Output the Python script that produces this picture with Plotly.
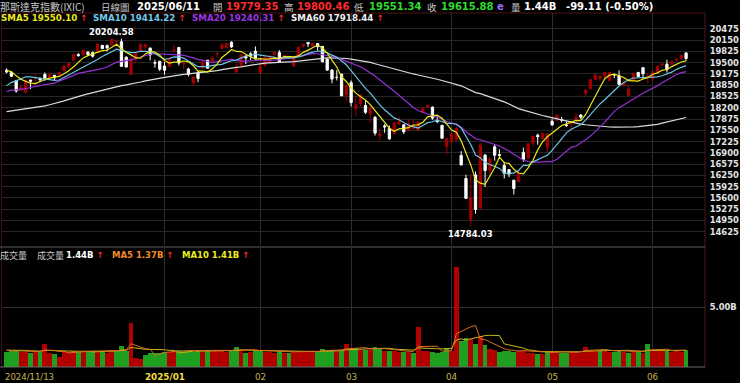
import numpy as np
import pandas as pd
import plotly.graph_objects as go

W, H = 740, 383

# ---------------- data ----------------
holidays = ["2024-11-28", "2024-12-25", "2025-01-01", "2025-01-09", "2025-01-20",
            "2025-02-17", "2025-04-18", "2025-05-26"]
dates = [d for d in pd.bdate_range("2024-11-13", "2025-06-11")
         if d.strftime("%Y-%m-%d") not in holidays]

open_ = [19283, 19219, 18981, 18710, 18640, 18999, 19046, 19039, 19160, 19074, 19136, 19124,
         19264, 19390, 19562, 19732, 19728, 19803, 19788, 19801, 19998, 19989, 20009, 20097,
         20101, 19658, 19160, 19603, 19814, 19955, 19920, 19498, 19540,
         19403, 19395, 19851, 19938, 19469, 19316, 18915, 19214, 19345, 19571, 19555, 19747,
         19911, 19932, 20088, 19234, 19418, 19679, 19753, 19832,
         19215, 19423, 19522, 19738, 19792, 19663, 19629, 19402, 19699, 19974, 20082, 19983,
         20051, 19968, 19603, 19287, 19076, 19169, 18567,
         18923, 18180, 18318, 18266, 18023, 17925, 17389, 17677, 17605, 17464, 17734, 17708,
         17549, 17593, 17564, 18066, 18222, 18218, 17827, 17694, 17086,
         17228, 17276, 16825, 16159, 14988, 16264, 15313, 16836, 16397, 17074, 16847, 16534,
         16415, 16111, 16073, 16913, 16753, 17182, 17409, 17306, 17063,
         17811, 17836, 17857, 17697, 17733, 17871, 17990, 18619, 18745, 19018, 19044, 19127,
         18986, 19159, 19120, 18844, 18547, 18988, 19215, 19356, 19084,
         19045, 19225, 19434, 19455, 19457, 19581, 19614, 19779.35]
high = [19335, 19245, 19005, 18852, 19003, 19002, 19173, 19076, 19219, 19187, 19139, 19238,
        19414, 19486, 19742, 19775, 19863, 19834, 19825, 20055, 20007, 20025, 20204.58, 20159,
        20194, 19681, 19696, 19775, 20031, 20052, 19932, 19586, 19540,
        19518, 19638, 20007, 19950, 19545, 19354, 19098, 19268, 19566, 19571, 19703, 19815,
        20068, 20054, 20118, 19472, 19751, 19721, 19801, 19969,
        19517, 19688, 19700, 19798, 19862, 19735, 19707, 19694, 19963, 20045, 20084, 20073,
        20065, 19972, 19624, 19311, 19289, 19172, 18852,
        18989, 18537, 18595, 18400, 18290, 17958, 17586, 17728, 17682, 17780, 17933, 17708,
        17875, 17865, 17803, 18211, 18281, 18238, 17986, 17698, 17340,
        17471, 17661, 16950, 16269, 16292, 16362, 17203, 16863, 16764, 17155, 17001, 16641,
        16434, 16111, 16371, 17051, 17176, 17383, 17454, 17486, 17466,
        17871, 18016, 17936, 17810, 17828, 18048, 18014, 18721, 19022, 19155, 19128, 19212,
        19241, 19181, 19277, 19055, 18862, 19201, 19238, 19361, 19166,
        19257, 19423, 19482, 19585, 19562, 19643, 19730, 19800.46]
low = [19192, 19085, 18635, 18674, 18632, 18742, 18853, 18936, 18976, 19043, 18978, 19114,
       19262, 19350, 19557, 19680, 19726, 19711, 19642, 19799, 19898, 19823, 19991, 20023,
       19375, 19365, 19133, 19507, 19788, 19909, 19563, 19356, 19256,
       19148, 19379, 19791, 19418, 19313, 19103, 18831, 18937, 19324, 19335, 19535, 19644,
       19903, 19898, 19924, 19204, 19372, 19461, 19574, 19593,
       19141, 19416, 19485, 19659, 19495, 19634, 19592, 19378, 19670, 19935, 19947, 19962,
       19845, 19510, 19262, 18903, 18985, 18536, 18372,
       18236, 17956, 18225, 18021, 17768, 17398, 17238, 17479, 17277, 17460, 17706, 17441,
       17521, 17584, 17518, 18040, 18190, 17853, 17753, 17298, 16855,
       17172, 17255, 16539, 15576, 14784.03, 15146, 15264, 15912, 16268, 16674, 16756, 16159,
       16200, 15697, 16045, 16641, 16736, 17089, 17133, 17283, 16921,
       17673, 17824, 17776, 17648, 17581, 17812, 17862, 18526, 18735, 18993, 18966, 19046,
       18958, 19054, 18859, 18834, 18545, 18958, 19084, 19021, 18899,
       18960, 19214, 19393, 19209, 19422, 19534, 19584, 19551.34]
close = [19230.74, 19107.65, 18680.12, 18791.81, 18987.47, 18966.14, 19060.48, 19003.65,
         19054.84, 19174.30, 19060.48, 19218.17,
         19403.95, 19480.91, 19735.12, 19700.26, 19859.77, 19736.69, 19687.24, 20034.89,
         19902.84, 19926.72, 20173.89, 20109.06, 19392.69, 19372.77, 19572.60, 19764.89,
         20031.13, 20020.36, 19722.03, 19486.78, 19310.79,
         19280.79, 19621.68, 19864.98, 19489.68, 19478.88, 19161.63, 19088.10, 19044.39,
         19511.23, 19338.29, 19630.20, 19756.78, 20009.34, 20053.68, 19954.30, 19341.84,
         19733.59, 19632.32, 19681.75, 19627.44,
         19391.96, 19654.02, 19692.33, 19791.99, 19523.40, 19714.27, 19643.86, 19649.95,
         19945.64, 20026.77, 20041.26, 20056.25, 19962.36, 19524.01, 19286.93, 19026.39,
         19075.26, 18544.42, 18847.28,
         18350.19, 18285.16, 18552.73, 18069.26, 18196.22, 17468.32, 17436.10, 17648.45,
         17303.01, 17754.09, 17808.66, 17504.12, 17750.79, 17691.63, 17784.05, 18188.59,
         18271.86, 17899.02, 17804.03, 17322.99, 17299.29,
         17449.89, 17601.05, 16550.61, 15587.79, 15603.26, 15267.91, 17124.97, 16387.31,
         16724.46, 16831.48, 16823.17, 16307.16, 16286.45, 15870.90, 16300.42, 16708.05,
         17166.04, 17382.94, 17366.13, 17461.32, 17446.34,
         17710.74, 17977.73, 17844.24, 17689.66, 17738.16, 17928.14, 17928.92, 18708.34,
         19010.08, 19146.81, 19112.32, 19211.10, 19215.46, 19142.71, 18872.64, 18925.74,
         18737.21, 19199.16, 19100.94, 19175.87, 19113.77,
         19242.61, 19398.96, 19460.49, 19298.45, 19529.95, 19591.24, 19714.99, 19615.88]
# volume in billions
volume_b = [1.33, 1.35, 1.45, 1.30, 1.28, 1.25, 1.32, 1.28, 1.95, 1.25, 1.15, 0.85,
            1.35, 1.30, 1.40, 1.30, 1.30, 1.35, 1.35, 1.40, 1.30, 1.20, 1.45, 1.40,
            1.83, 1.36, 3.70, 0.80, 0.70, 1.05, 1.20, 1.25, 1.25,
            1.30, 1.30, 1.40, 1.45, 1.35, 1.40, 1.30, 1.35, 1.40, 1.35, 1.45, 1.40,
            1.35, 1.30, 1.40, 1.75, 1.45, 1.25, 1.30, 1.40,
            1.45, 1.30, 1.30, 1.25, 1.35, 1.25, 1.20, 1.30, 1.30, 1.30, 1.35, 1.30,
            1.30, 1.55, 1.40, 1.45, 1.35, 1.40, 2.00,
            1.55, 1.60, 1.45, 1.50, 1.45, 1.70, 1.60, 1.40, 1.40, 1.35, 1.30, 1.30,
            1.30, 1.25, 3.40, 1.40, 1.35, 1.30, 1.25, 1.30, 1.60,
            1.40, 8.37, 2.19, 2.47, 2.39, 1.97, 2.67, 1.91, 1.55, 1.50, 1.30, 1.40,
            1.35, 1.30, 1.35, 1.45, 1.25, 1.20, 1.15, 1.15, 1.30,
            1.30, 1.35, 1.20, 1.25, 1.30, 1.35, 1.25, 1.75, 1.45, 1.40, 1.35, 1.40,
            1.30, 1.30, 1.45, 1.30, 1.25, 1.35, 1.30, 1.25, 1.95,
            1.35, 1.40, 1.35, 1.40, 1.30, 1.38, 1.33, 1.44]
# closes / volumes before the first visible day (for the moving averages)
prior_close = [17876.77, 17816.94, 17918.99, 17619.35, 17877.79, 17725.77, 17754.82, 17556.03,
               17516.43, 17713.62,
               17136.30, 17084.30, 17127.66, 16690.83, 16884.60, 17025.88, 17395.53, 17569.68,
               17683.98, 17592.13, 17628.06, 17573.30, 18013.98, 17948.32, 17974.27, 18074.52,
               18082.21, 18190.29, 18119.59, 18189.17,
               17910.36, 17925.12, 17918.48, 18137.85, 17923.90, 18182.92, 18291.62, 18282.05,
               18342.94, 18502.69, 18315.59, 18367.08, 18373.61, 18489.55, 18540.01, 18573.13,
               18276.65, 18415.49, 18518.61, 18567.19, 18712.75, 18607.93, 18095.15,
               18239.92, 18179.98, 18439.17, 18983.47, 19269.46, 19286.78, 19298.76, 19281.40]
prior_volume_b = [1.30, 1.35, 1.40, 1.55, 1.60, 1.45, 1.40, 1.35, 1.38]

price_ticks = [14625, 14950, 15275, 15600, 15925, 16250, 16575, 16900, 17225, 17550,
               17875, 18200, 18525, 18850, 19175, 19500, 19825, 20150, 20475]
volume_ticks = [5.0]
volume_tick_text = ["5.00B"]
month_starts = ["2024-11-13", "2025-01-02", "2025-02-03", "2025-03-03", "2025-04-01",
                "2025-05-01", "2025-06-02"]
month_labels = ["2024/11/13", "2025/01", "02", "03", "04", "05", "06"]

n = len(close)
assert len(dates) == n == len(open_) == len(high) == len(low) == len(volume_b)
x = np.arange(n)
date_str = [d.strftime("%Y-%m-%d") for d in dates]
month_idx = [date_str.index(m) for m in month_starts]

all_close = pd.Series(prior_close + close)
sma = {w: all_close.rolling(w).mean().iloc[len(prior_close):].to_numpy() for w in (5, 10, 20, 60)}
all_vol = pd.Series(prior_volume_b + volume_b)
vma5 = all_vol.rolling(5).mean().iloc[len(prior_volume_b):].to_numpy()
vma10 = all_vol.rolling(10).mean().iloc[len(prior_volume_b):].to_numpy()
prev_close = [prior_close[-1]] + close[:-1]

# ---------------- style ----------------
UP = "#a50000"
DOWN = "#ffffff"
VOL_UP = "#b00000"
VOL_DOWN = "#1f9f1f"
SMA_COL = {5: "#e8e81a", 10: "#6cc4e6", 20: "#9830d8", 60: "#dcdcdc"}
GRID = "#262626"
NUM = "DejaVu Sans"
CJK = "Noto Sans CJK TC"

X0, X1 = 2, 705            # plot area in pixels
PX_PER_BAR = 4.785
FIRST_BAR_PX = 6.6
xr = [(X0 - FIRST_BAR_PX) / PX_PER_BAR, (X1 - FIRST_BAR_PX) / PX_PER_BAR]
PRICE_TOP, PRICE_BOT = 13, 245
VOL_TOP, VOL_BOT = 247.5, 367
price_range = [14243, 20931]
vol_range = [0, 10.0]
vol_colors = [VOL_UP if c >= p else VOL_DOWN for c, p in zip(close, prev_close)]

fig = go.Figure()
fig.add_trace(go.Candlestick(
    x=x, open=open_, high=high, low=low, close=close,
    increasing=dict(line=dict(color=UP, width=1), fillcolor=UP),
    decreasing=dict(line=dict(color=DOWN, width=1), fillcolor=DOWN),
    whiskerwidth=0, xaxis="x", yaxis="y", showlegend=False, hoverinfo="skip"))
for w in (60, 20, 10, 5):
    fig.add_trace(go.Scatter(x=x, y=sma[w], mode="lines", xaxis="x", yaxis="y",
                             line=dict(color=SMA_COL[w], width=1.2), showlegend=False,
                             hoverinfo="skip"))
fig.add_trace(go.Bar(x=x, y=volume_b, marker=dict(color=vol_colors, line=dict(width=0)),
                     width=1.0, xaxis="x2", yaxis="y2", showlegend=False, hoverinfo="skip"))
fig.add_trace(go.Scatter(x=x, y=vma10, mode="lines", xaxis="x2", yaxis="y2",
                         line=dict(color="#c8b814", width=1), showlegend=False, hoverinfo="skip"))
fig.add_trace(go.Scatter(x=x, y=vma5, mode="lines", xaxis="x2", yaxis="y2",
                         line=dict(color="#d87020", width=1), showlegend=False, hoverinfo="skip"))

dom_x = [X0 / W, X1 / W]
common_x = dict(domain=dom_x, range=xr, tickvals=month_idx[1:], showticklabels=False,
                showgrid=True, gridcolor="#2e2e2e", gridwidth=1, zeroline=False, showline=False,
                ticks="", fixedrange=True)
fig.update_layout(
    width=W, height=H, margin=dict(l=0, r=0, t=0, b=0),
    paper_bgcolor="#000000", plot_bgcolor="#000000",
    template="none", bargap=0, boxgap=0.32, hovermode=False,
    xaxis=dict(**common_x, anchor="y", rangeslider=dict(visible=False)),
    xaxis2=dict(**common_x, anchor="y2", matches="x"),
    yaxis=dict(domain=[1 - PRICE_BOT / H, 1 - PRICE_TOP / H], range=price_range, side="right",
               tickvals=price_ticks, ticktext=[str(t) for t in price_ticks],
               tickfont=dict(family=NUM, size=8.4, color="#e4e4e4", weight="bold"),
               ticks="outside", ticklen=2, tickcolor="rgba(0,0,0,0)",
               showgrid=True, gridcolor=GRID, zeroline=False, showline=False,
               anchor="x", automargin=False, fixedrange=True),
    yaxis2=dict(domain=[1 - VOL_BOT / H, 1 - VOL_TOP / H], range=vol_range, side="right",
                tickvals=volume_ticks, ticktext=volume_tick_text,
                tickfont=dict(family=NUM, size=8.4, color="#e4e4e4", weight="bold"),
                ticks="outside", ticklen=2, tickcolor="rgba(0,0,0,0)",
                showgrid=True, gridcolor="#303030", zeroline=False, showline=False,
                anchor="x2", automargin=False, fixedrange=True),
)

# frame lines
shapes = [
    dict(type="line", xref="paper", yref="paper", x0=0, x1=X1 / W, y0=1 - PRICE_TOP / H,
         y1=1 - PRICE_TOP / H, line=dict(color="#4d1414", width=1)),
    dict(type="line", xref="paper", yref="paper", x0=X1 / W, x1=X1 / W, y0=1 - VOL_BOT / H,
         y1=1 - PRICE_TOP / H, line=dict(color="#4d1a1a", width=1)),
    dict(type="line", xref="paper", yref="paper", x0=1.5 / W, x1=1.5 / W, y0=1 - VOL_BOT / H,
         y1=1 - PRICE_TOP / H, line=dict(color="#3a1515", width=1)),
    dict(type="line", xref="paper", yref="paper", x0=0, x1=X1 / W, y0=1 - 247 / H,
         y1=1 - 247 / H, line=dict(color="#5c5c5c", width=1)),
    dict(type="line", xref="paper", yref="paper", x0=0, x1=X1 / W, y0=1 - VOL_BOT / H,
         y1=1 - VOL_BOT / H, line=dict(color="#6a6a6a", width=1)),
]
fig.update_layout(shapes=shapes)

ann = []


def text(t, px, py, color, size, family=NUM, bold=True, xanchor="left"):
    ann.append(dict(text=f"<b>{t}</b>" if bold else t, x=px / W, y=1 - py / H,
                    xref="paper", yref="paper", xanchor=xanchor, yanchor="middle",
                    showarrow=False, borderpad=0, borderwidth=0,
                    font=dict(color=color, size=size, family=family)))


RED = "#ff2a2a"
GREEN = "#2edc2e"
LABEL = "#c8c8c8"
ARROW = f"<span style='color:{RED}'>↑</span>"

# header line 1
text("那斯達克指數(IXIC)", 0, 7, LABEL, 10, CJK, bold=False)
text("日線圖", 101, 7, LABEL, 9.5, CJK, bold=False)
text("2025/06/11", 137, 7, "#ffffff", 10)
text("開", 213, 7, LABEL, 9.5, CJK, bold=False)
text("19779.35", 226, 7, RED, 10)
text("高", 284, 7, LABEL, 9.5, CJK, bold=False)
text("19800.46", 297, 7, RED, 10)
text("低", 354, 7, LABEL, 9.5, CJK, bold=False)
text("19551.34", 369, 7, GREEN, 10)
text("收", 427, 7, LABEL, 9.5, CJK, bold=False)
text("19615.88", 441, 7, GREEN, 10)
text("e", 497, 7, "#9a6cff", 10)
text("量", 511, 7, LABEL, 9.5, CJK, bold=False)
text("1.44B", 524, 7, "#ffffff", 10)
text("-99.11 (-0.50%)", 566, 7, "#ffffff", 10)

# header line 2 (price moving averages)
text(f"SMA5 19550.10 {ARROW}", 1, 18, SMA_COL[5], 8.7)
text(f"SMA10 19414.22 {ARROW}", 93, 18, "#70c8ea", 8.7)
text(f"SMA20 19240.31 {ARROW}", 192, 18, "#9a34e0", 8.7)
text(f"SMA60 17918.44 {ARROW}", 291, 18, "#f0f0f0", 8.7)

# volume header
text("成交量", 0, 255, LABEL, 9, CJK, bold=False)
text("成交量", 37, 255, LABEL, 9, CJK, bold=False)
text(f"1.44B {ARROW}", 66, 255, "#ffffff", 8.5)
text(f"MA5 1.37B {ARROW}", 112, 255, "#f08a28", 8.5)
text(f"MA10 1.41B {ARROW}", 182, 255, "#ecec20", 8.5)

# max / min labels
imax = int(np.argmax(high))
imin = int(np.argmin(low))
ann.append(dict(text=f"<b>{high[imax]:.2f}</b>", x=imax, y=high[imax], xref="x", yref="y",
                xanchor="center", yanchor="middle", yshift=6, showarrow=False,
                font=dict(color="#ffffff", size=8.5, family=NUM)))
ann.append(dict(text=f"<b>{low[imin]:.2f}</b>", x=imin, y=low[imin], xref="x", yref="y",
                xanchor="center", yanchor="middle", yshift=-8, showarrow=False,
                font=dict(color="#ffffff", size=8.5, family=NUM)))

# date labels
for i, (mi, lab) in enumerate(zip(month_idx, month_labels)):
    if i == 0:
        ann.append(dict(text=lab, x=xr[0], y=1 - 377 / H, xref="x2", yref="paper",
                        xanchor="left", yanchor="middle", xshift=1, showarrow=False,
                        font=dict(color="#c4b448", size=8.5, family=NUM)))
    elif i == 1:
        ann.append(dict(text=f"<b>{lab}</b>", x=mi, y=1 - 377 / H, xref="x2", yref="paper",
                        xanchor="center", yanchor="middle", showarrow=False,
                        font=dict(color="#f2dc3c", size=8.8, family=NUM)))
    else:
        ann.append(dict(text=lab, x=mi, y=1 - 377 / H, xref="x2", yref="paper",
                        xanchor="center", yanchor="middle", showarrow=False,
                        font=dict(color="#c4b448", size=8.8, family=NUM)))

fig.update_layout(annotations=ann)
fig.write_html("out.html")
